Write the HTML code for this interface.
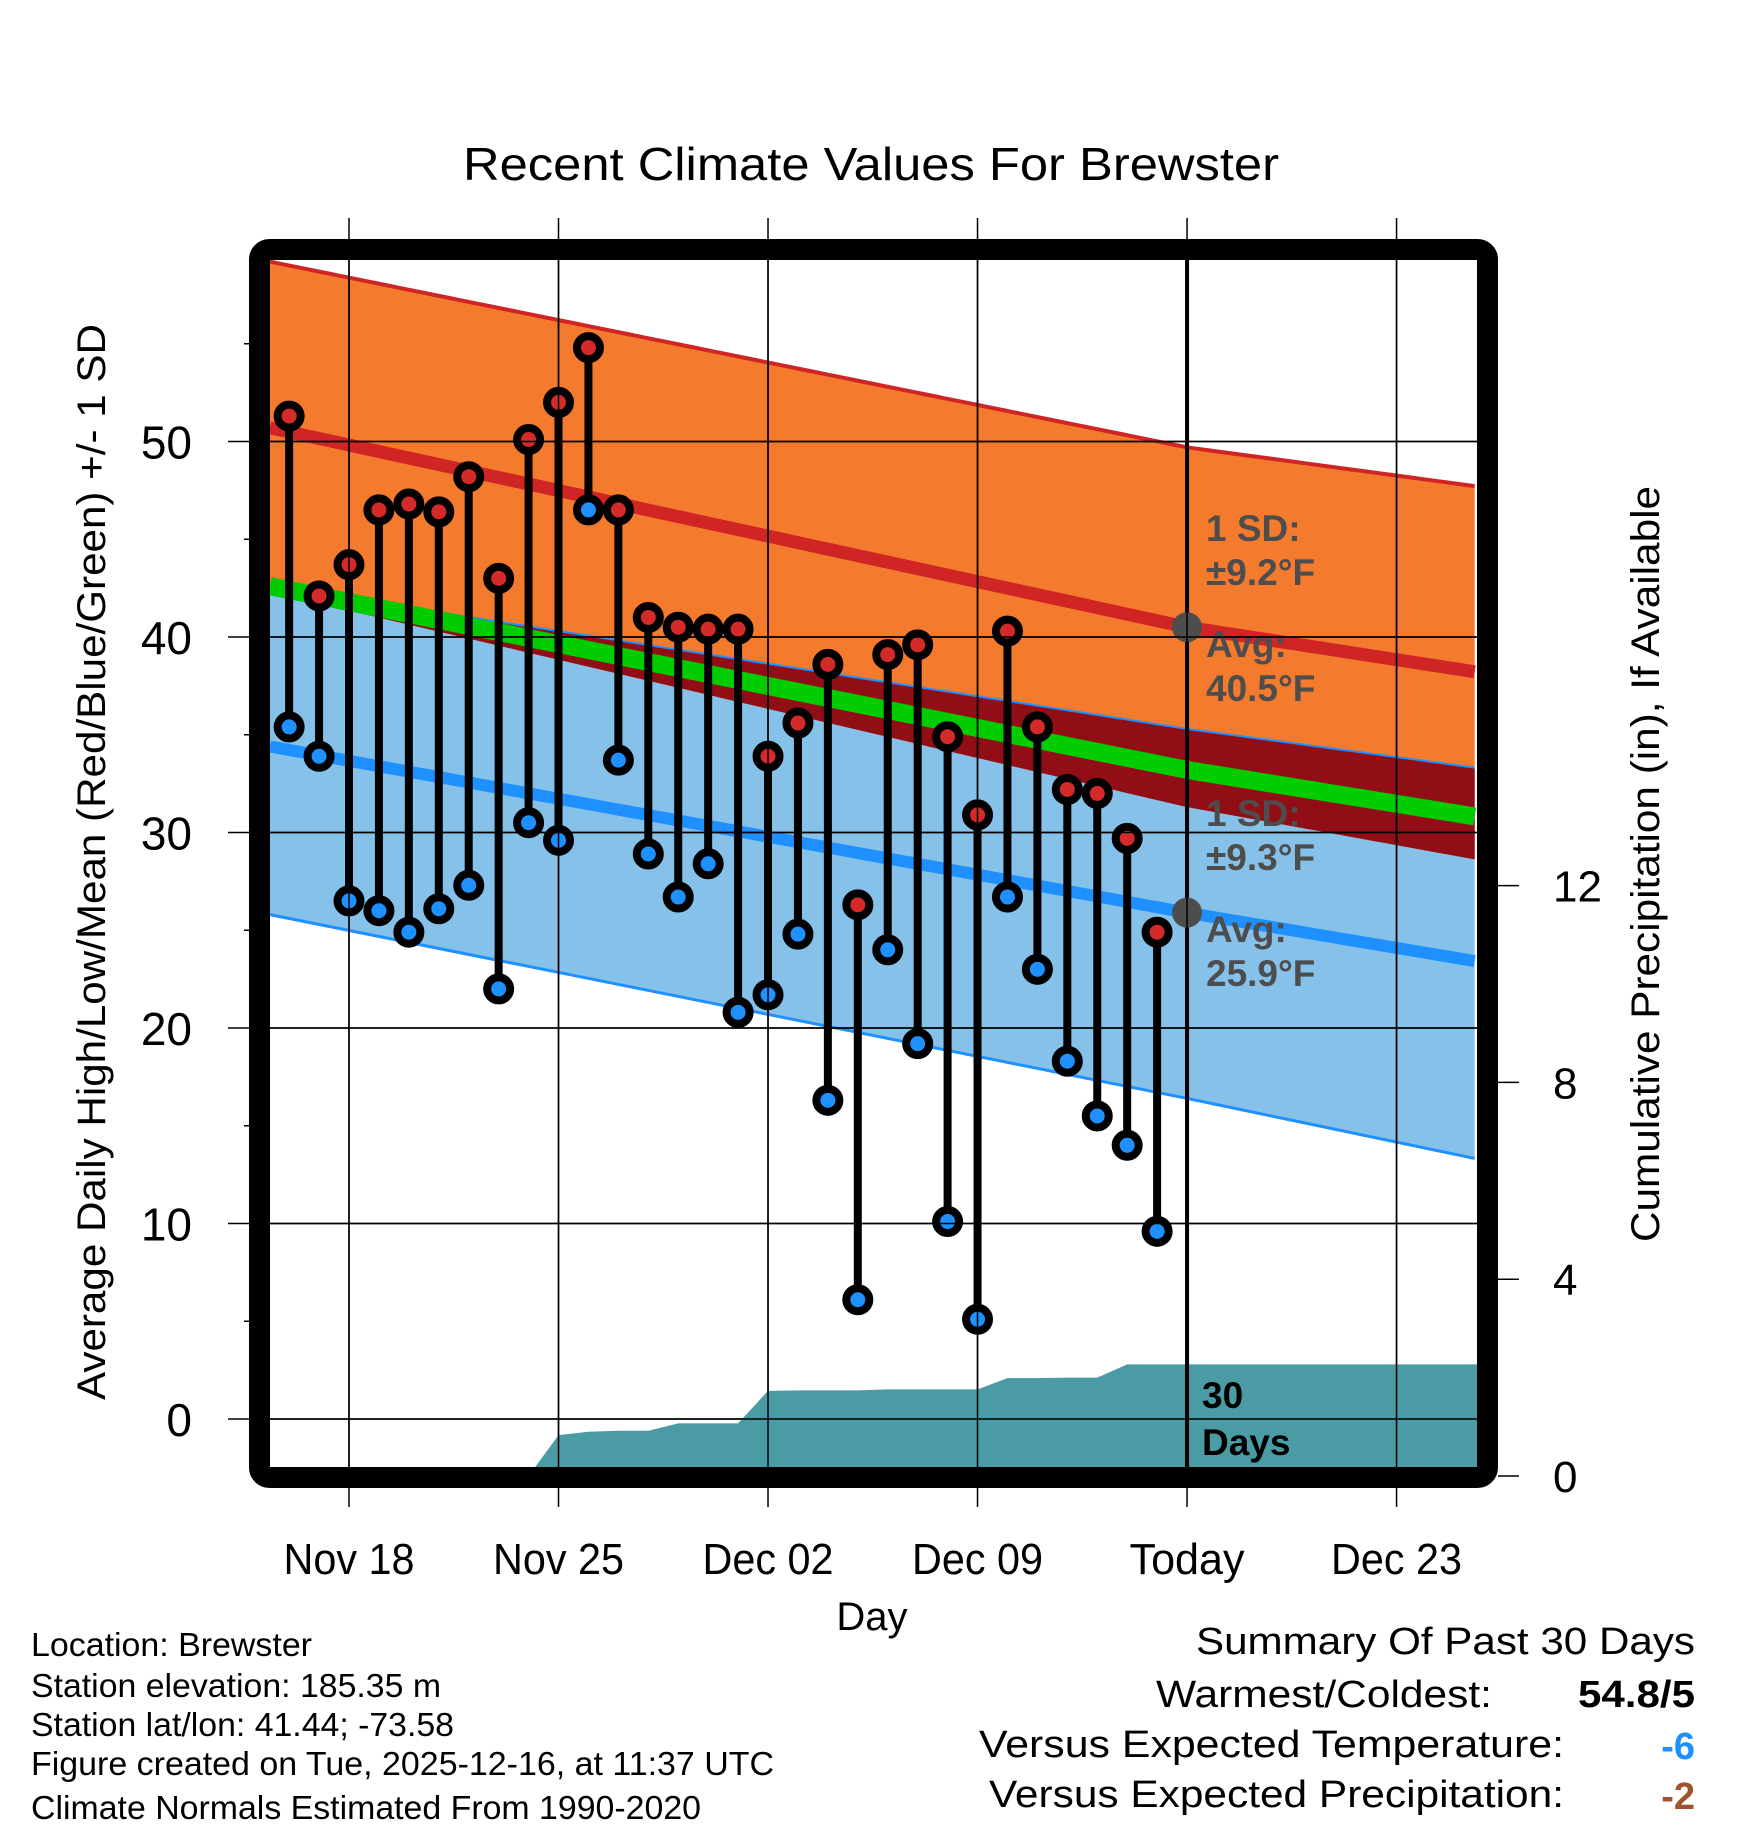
<!DOCTYPE html>
<html><head><meta charset="utf-8"><title>Recent Climate Values For Brewster</title>
<style>html,body{margin:0;padding:0;background:#fff}svg{display:block;font-family:"Liberation Sans",Arial,sans-serif}</style>
</head><body>
<svg id="chart" width="1748" height="1828" viewBox="0 0 1748 1828" xmlns="http://www.w3.org/2000/svg">
<defs><clipPath id="plotClip"><rect x="270" y="260" width="1208" height="1208"/></clipPath></defs>
<text x="871" y="180" font-size="46" text-anchor="middle" textLength="816" lengthAdjust="spacingAndGlyphs">Recent Climate Values For Brewster</text>
<g id="plot" clip-path="url(#plotClip)"></g>
<g id="axes"></g>
<rect x="259.5" y="249.5" width="1228" height="1228" rx="10" fill="none" stroke="#000" stroke-width="21"/>
<text transform="translate(105,862) rotate(-90)" font-size="40" text-anchor="middle" textLength="1076" lengthAdjust="spacingAndGlyphs">Average Daily High/Low/Mean (Red/Blue/Green) +/- 1 SD</text>
<text transform="translate(1659,864) rotate(-90)" font-size="40" text-anchor="middle" textLength="756" lengthAdjust="spacingAndGlyphs">Cumulative Precipitation (in), If Available</text>
<text x="872" y="1630" font-size="40" text-anchor="middle">Day</text>
<g font-size="33">
<text x="31" y="1656" textLength="281" lengthAdjust="spacingAndGlyphs">Location: Brewster</text>
<text x="31" y="1697" textLength="410" lengthAdjust="spacingAndGlyphs">Station elevation: 185.35 m</text>
<text x="31" y="1736" textLength="423" lengthAdjust="spacingAndGlyphs">Station lat/lon: 41.44; -73.58</text>
<text x="31" y="1775" textLength="743" lengthAdjust="spacingAndGlyphs">Figure created on Tue, 2025-12-16, at 11:37 UTC</text>
<text x="31" y="1819" textLength="670" lengthAdjust="spacingAndGlyphs">Climate Normals Estimated From 1990-2020</text>
</g>
<g font-size="38">
<text x="1695" y="1654" text-anchor="end" textLength="499" lengthAdjust="spacingAndGlyphs">Summary Of Past 30 Days</text>
<text x="1492" y="1707" text-anchor="end" textLength="336" lengthAdjust="spacingAndGlyphs">Warmest/Coldest:</text>
<text x="1695" y="1707" text-anchor="end" font-weight="bold" textLength="117" lengthAdjust="spacingAndGlyphs">54.8/5</text>
<text x="1564" y="1757" text-anchor="end" textLength="585" lengthAdjust="spacingAndGlyphs">Versus Expected Temperature:</text>
<text x="1695" y="1759" text-anchor="end" font-weight="bold" fill="#1E90FF">-6</text>
<text x="1564" y="1807" text-anchor="end" textLength="575" lengthAdjust="spacingAndGlyphs">Versus Expected Precipitation:</text>
<text x="1695" y="1809" text-anchor="end" font-weight="bold" fill="#A0522D">-2</text>
</g>
</svg>
<script>
// ---- data ----
const dayLabels = ["Nov 18","Nov 25","Dec 02","Dec 09","Today","Dec 23"];
const dayTicks = [0,7,14,21,28,35];            // days after Nov 18
const tempTicks = [0,10,20,30,40,50];
const precipTicks = [0,4,8,12];
const obsDays = [-2,-1,0,1,2,3,4,5,6,7,8,9,10,11,12,13,14,15,16,17,18,19,20,21,22,23,24,25,26,27];
const highs = [51.3,42.1,43.7,46.5,46.8,46.4,48.2,43.0,50.1,52.0,54.8,46.5,41.0,40.5,40.4,40.4,33.9,35.6,38.6,26.3,39.1,39.6,34.9,30.9,40.3,35.4,32.2,32.0,29.7,24.9];
const lows  = [35.4,33.9,26.5,26.0,24.9,26.1,27.3,22.0,30.5,29.6,46.5,33.7,28.9,26.7,28.4,20.8,21.7,24.8,16.3,6.1,24.0,19.2,10.1,5.1,26.7,23.0,18.3,15.5,14.0,9.6];
const precipCum = [0,0,0,0,0,0,0,0,0,0.83,0.90,0.92,0.92,1.07,1.07,1.07,1.73,1.74,1.74,1.74,1.76,1.76,1.76,1.76,1.99,1.99,2.0,2.0,2.27,2.27];
const normDays  = [-2.64,28,37.7];
const highPlus  = [59.2,49.7,47.7];
const highMean  = [50.7,40.5,38.2];
const highMinus = [42.3,31.3,28.6];
const meanTemp  = [42.6,33.2,30.8];
const lowPlus   = [42.6,35.3,33.3];
const lowMean   = [34.4,25.9,23.4];
const lowMinus  = [25.8,16.4,13.3];
const todayDay = 28;

// ---- scales ----
const X0=349, PX_DAY=29.93, Y0=1419, PX_DEG=19.55, P0=1476, PX_IN=49.2;
const xs = d => X0 + d*PX_DAY;
const ys = t => Y0 - t*PX_DEG;
const yp = p => P0 - p*PX_IN;
const NS="http://www.w3.org/2000/svg";
const plot=document.getElementById('plot'), axes=document.getElementById('axes');
function mk(tag, attrs, parent){const e=document.createElementNS(NS,tag);for(const k in attrs)e.setAttribute(k,attrs[k]);parent.appendChild(e);return e;}
function interp(arr,d){for(let i=0;i<normDays.length-1;i++){if(d<=normDays[i+1]||i===normDays.length-2){const f=(d-normDays[i])/(normDays[i+1]-normDays[i]);return arr[i]+f*(arr[i+1]-arr[i]);}}}
const samples=[];for(let d=normDays[0];d<=normDays[normDays.length-1]+0.001;d+=0.25)samples.push(d);
function band(upper,lower){let s=samples.map(d=>xs(d)+','+ys(upper(d))).join(' ');s+=' '+samples.slice().reverse().map(d=>xs(d)+','+ys(lower(d))).join(' ');return s;}
function line(arr){return samples.map(d=>xs(d)+','+ys(interp(arr,d))).join(' ');}

let e;
e=mk('polygon',{points:band(d=>interp(lowPlus,d),d=>interp(lowMinus,d)),fill:'#85C1E9'},plot);


e=mk('polygon',{points:band(d=>interp(highPlus,d),d=>interp(highMinus,d)),fill:'#F47A2E'},plot);


e=mk('polygon',{points:band(d=>Math.max(interp(lowPlus,d),interp(highMinus,d)),d=>interp(highMinus,d)),fill:'#920E16'},plot);


e=mk('polyline',{points:line(lowPlus),fill:'none',stroke:'#1E90FF','stroke-width':2},plot);


e=mk('polyline',{points:line(lowMinus),fill:'none',stroke:'#1E90FF','stroke-width':3},plot);


e=mk('polyline',{points:line(highPlus),fill:'none',stroke:'#D02525','stroke-width':4},plot);


e=mk('polyline',{points:line(meanTemp),fill:'none',stroke:'#00CC00','stroke-width':18},plot);


e=mk('polyline',{points:line(highMean),fill:'none',stroke:'#D02525','stroke-width':13},plot);


e=mk('polyline',{points:line(lowMean),fill:'none',stroke:'#1E90FF','stroke-width':12},plot);



tempTicks.forEach(t=>{
  e=mk('line',{x1:228,x2:1478,y1:ys(t),y2:ys(t),stroke:'#000','stroke-width':1.5},axes);
  
  
  e=mk('text',{x:192,y:ys(t)+17,'font-size':46,'text-anchor':'end'},axes);
  e.textContent=t;
  
  
});
[5,15,25,35,45,55].forEach(t=>{
  e=mk('line',{x1:244,x2:260,y1:ys(t),y2:ys(t),stroke:'#000','stroke-width':1.5},axes);
  
  
});
dayTicks.forEach((d,i)=>{
  e=mk('line',{x1:xs(d),x2:xs(d),y1:218,y2:1507,stroke:'#000','stroke-width':1.5},axes);
  
  
  e=mk('text',{x:xs(d),y:1574,'font-size':44,'text-anchor':'middle',textLength:(dayLabels[i]==='Today'?115:131),lengthAdjust:'spacingAndGlyphs'},axes);
  e.textContent=dayLabels[i];
  
  
});
precipTicks.forEach(p=>{
  e=mk('line',{x1:1498,x2:1519,y1:yp(p),y2:yp(p),stroke:'#000','stroke-width':1.5},axes);
  
  
  e=mk('text',{x:1553,y:yp(p)+16,'font-size':44},axes);
  e.textContent=p;
  
  
});
tempTicks.forEach(t=>{
  e=mk('line',{x1:270,x2:1478,y1:ys(t),y2:ys(t),stroke:'#000','stroke-width':1.5},plot);
  
  
});
dayTicks.forEach(d=>{
  e=mk('line',{x1:xs(d),x2:xs(d),y1:260,y2:1468,stroke:'#000','stroke-width':1.5},plot);
  
  
});

let pts=[xs(normDays[0])+','+yp(0)];
obsDays.forEach((d,i)=>pts.push(xs(d)+','+yp(precipCum[i])));
pts.push(xs(normDays[2])+','+yp(precipCum[precipCum.length-1]));
pts.push(xs(normDays[2])+','+1480);
pts.push(xs(normDays[0])+','+1480);
e=mk('polygon',{points:pts.join(' '),fill:'#4A9BA3'},plot);



e=mk('line',{x1:xs(todayDay),x2:xs(todayDay),y1:260,y2:1468,stroke:'#000','stroke-width':4},plot);



const lab=[["1 SD:",541],["±9.2°F",585],["Avg:",657],["40.5°F",701],["1 SD:",826],["±9.3°F",870],["Avg:",942],["25.9°F",986]];
lab.forEach(l=>{
  e=mk('text',{x:1206,y:l[1],'font-size':37,'font-weight':'bold',fill:'#4D4D4D'},plot);
  e.textContent=l[0];
  
  
});
e=mk('circle',{cx:xs(todayDay),cy:ys(interp(highMean,todayDay)),r:15,fill:'#4D4D4D'},plot);


e=mk('circle',{cx:xs(todayDay),cy:ys(interp(lowMean,todayDay)),r:15,fill:'#4D4D4D'},plot);


[["30",1408],["Days",1455]].forEach(l=>{
  e=mk('text',{x:1202,y:l[1],'font-size':37,'font-weight':'bold',fill:'#000'},plot);
  e.textContent=l[0];
  
  
});

obsDays.forEach((d,i)=>{
  e=mk('line',{x1:xs(d),x2:xs(d),y1:ys(highs[i]),y2:ys(lows[i]),stroke:'#000','stroke-width':8},plot);
  
  
});
obsDays.forEach((d,i)=>{
  e=mk('circle',{cx:xs(d),cy:ys(lows[i]),r:11.5,fill:'#1E90FF',stroke:'#000','stroke-width':8},plot);
  
  
  e=mk('circle',{cx:xs(d),cy:ys(highs[i]),r:11.5,fill:'#D42A2A',stroke:'#000','stroke-width':8},plot);
  
  
});
</script>
</body></html>
